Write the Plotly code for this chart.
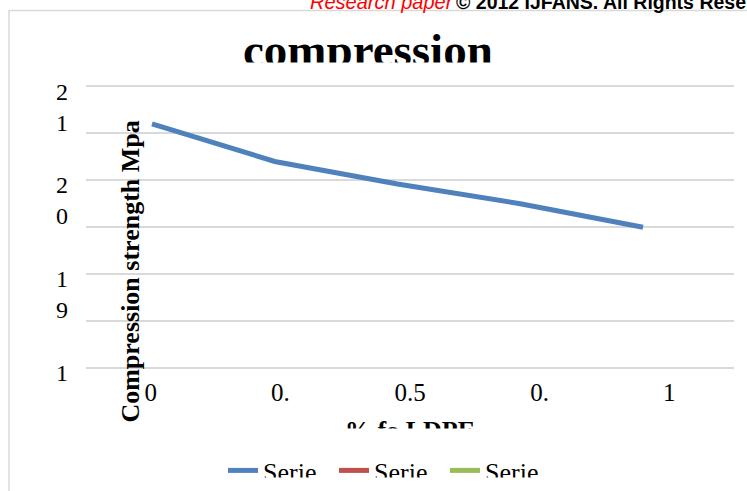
import plotly.graph_objects as go

# ---------------- data ----------------
pct_ldpe = [0, 0.25, 0.5, 0.75, 1]
compression_mpa = [20.6, 20.2, 19.96, 19.75, 19.5]
series_names = ["Serie", "Serie", "Serie"]
series_colors = ["#4F81BD", "#C0504D", "#9BBB59"]
x_tick_text = ["0", "0.", "0.5", "0.", "1"]
y_tick_vals = [21, 20, 19, 18]
y_tick_text = ["21", "20", "19", "1"]
title_text = "compression"
x_title = "% fo LDPE"
y_title = "Compression strength Mpa"
header_red = "Research paper"
header_black = "© 2012 IJFANS. All Rights Reserved"

# ---------------- layout geometry ----------------
W, H = 747, 491
L, R = 86, 13
Y_RANGE = [17.925, 21.1]
PPU = 94.0                     # pixels per MPa
T = 86 - (Y_RANGE[1] - 21) * PPU
B = H - (368 + (18 - Y_RANGE[0]) * PPU)
PW, PH = W - L - R, H - T - B


def px2x(p):
    return (p - L) / PW


def py2y(p):
    return (H - B - p) / PH


SERIF = "Liberation Serif"
SANS = "Liberation Sans"

fig = go.Figure()
fig.add_trace(go.Scatter(
    x=pct_ldpe, y=compression_mpa, name=series_names[0], mode="lines",
    line=dict(color=series_colors[0], width=5), xaxis="x2", yaxis="y",
    hoverinfo="skip"))
for name, col in zip(series_names[1:], series_colors[1:]):
    fig.add_trace(go.Scatter(
        x=list(range(len(x_tick_text))), y=[None] * len(x_tick_text),
        name=name, mode="lines", line=dict(color=col, width=5),
        xaxis="x", yaxis="y"))

ann = []
# title + cover of its lower part
ann.append(dict(text="<b>" + title_text + "</b>", x=px2x(367.5), y=py2y(49.6),
                xref="paper", yref="paper", xanchor="center", yanchor="middle",
                showarrow=False, borderpad=0,
                font=dict(family=SERIF, size=47, color="black")))
ann.append(dict(text=" ", x=px2x(367.5), y=py2y(62), xref="paper", yref="paper",
                xanchor="center", yanchor="top", width=290, height=18,
                bgcolor="white", showarrow=False, borderpad=0))
# x axis title + cover
ann.append(dict(text="<b>" + x_title + "</b>", x=px2x(410), y=py2y(430.4),
                xref="paper", yref="paper", xanchor="center", yanchor="middle",
                showarrow=False, borderpad=0,
                font=dict(family=SERIF, size=26, color="black")))
ann.append(dict(text=" ", x=px2x(410), y=py2y(428), xref="paper", yref="paper",
                xanchor="center", yanchor="top", width=190, height=24,
                bgcolor="white", showarrow=False, borderpad=0))
# y axis title
ann.append(dict(text="<b>" + y_title + "</b>", x=px2x(131), y=py2y(271.5),
                xref="paper", yref="paper", xanchor="center", yanchor="middle",
                textangle=-90, showarrow=False, borderpad=0,
                font=dict(family=SERIF, size=26, color="black")))
# y tick labels (wrapped digit by digit)
for v, t in zip(y_tick_vals, y_tick_text):
    ann.append(dict(text="<br>".join(t), x=px2x(61.5), y=v, xref="paper", yref="y",
                    xanchor="center", yanchor="top", yshift=8.8, showarrow=False,
                    borderpad=0, font=dict(family=SERIF, size=24, color="black")))
# header
ann.append(dict(text="<i>" + header_red + "</i>", x=px2x(455), y=py2y(1.2),
                xref="paper", yref="paper", xanchor="right", yanchor="middle",
                showarrow=False, borderpad=0,
                font=dict(family=SANS, size=20, color="#FF0000")))
ann.append(dict(text="<b>" + header_black + "</b>", x=px2x(455), y=py2y(1.2),
                xref="paper", yref="paper", xanchor="left", yanchor="middle",
                showarrow=False, borderpad=0,
                font=dict(family=SANS, size=19.5, color="black")))
# legend cover (bottom clipped)
ann.append(dict(text=" ", x=px2x(380), y=py2y(477), xref="paper", yref="paper",
                xanchor="center", yanchor="top", width=400, height=16,
                bgcolor="white", showarrow=False, borderpad=0))

shapes = [dict(type="rect", xref="paper", yref="paper",
               x0=px2x(9), x1=px2x(800), y0=py2y(10), y1=py2y(600),
               line=dict(color="#D9D9D9", width=1.5), fillcolor="rgba(0,0,0,0)",
               layer="below")]

fig.update_layout(
    width=W, height=H, autosize=False,
    margin=dict(l=L, r=R, t=T, b=B, pad=0, autoexpand=False),
    paper_bgcolor="white", plot_bgcolor="white",
    showlegend=True,
    legend=dict(orientation="h", xref="container", yref="container",
                x=223 / W, y=1 - 447 / H, xanchor="left", yanchor="top",
                font=dict(family=SERIF, size=26, color="black"),
                bgcolor="rgba(0,0,0,0)", itemwidth=30, entrywidth=66,
                entrywidthmode="pixels"),
    xaxis=dict(type="linear", range=[-0.5, 4.5], tickvals=list(range(len(x_tick_text))),
               ticktext=x_tick_text, showgrid=False, zeroline=False, showline=False,
               ticks="", tickfont=dict(family=SERIF, size=25, color="black"),
               fixedrange=True, automargin=False),
    xaxis2=dict(type="linear", overlaying="x", range=[(86 - 152) / 491, (734 - 152) / 491],
                visible=False, fixedrange=True),
    yaxis=dict(range=Y_RANGE, tick0=18, dtick=0.5, showticklabels=False,
               gridcolor="#D9D9D9", gridwidth=1.5, zeroline=False, showline=False,
               ticks="", fixedrange=True, automargin=False),
    annotations=ann,
    shapes=shapes,
)

fig.write_html("out.html", config={"displayModeBar": False},
               post_script="document.body.style.margin='0';")
